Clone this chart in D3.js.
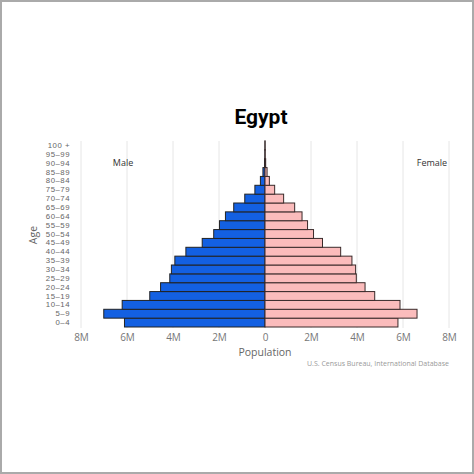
<!DOCTYPE html>
<html><head><meta charset="utf-8">
<script src="https://cdn.jsdelivr.net/npm/d3@7"></script>
<style>
html,body{margin:0;padding:0;background:#fff;}
svg{display:block;}
text{font-family:"Open Sans","Noto Sans",sans-serif;}
</style></head>
<body><svg id="c" width="474" height="474"></svg>
<script>
const ageGroups = ["0–4","5–9","10–14","15–19","20–24","25–29","30–34","35–39","40–44","45–49","50–54","55–59","60–64","65–69","70–74","75–79","80–84","85–89","90–94","95–99","100 +"];
const maleMillions = [6.11,7.01,6.21,5.01,4.54,4.14,4.07,3.92,3.44,2.73,2.23,1.98,1.72,1.36,0.88,0.44,0.20,0.09,0.02,0.004,0.0005];
const femaleMillions = [5.78,6.61,5.87,4.77,4.35,3.97,3.94,3.78,3.29,2.50,2.11,1.85,1.61,1.29,0.81,0.42,0.19,0.09,0.03,0.006,0.001];
const tickValues = [-8,-6,-4,-2,0,2,4,6,8];
const tickLabels = ["8M","6M","4M","2M","0","2M","4M","6M","8M"];

const svg = d3.select("#c");
// frame
svg.append("rect").attr("x",1).attr("y",1).attr("width",472).attr("height",472)
  .attr("fill","none").attr("stroke","#aaa").attr("stroke-width",2);

const x = d3.scaleLinear().domain([-8,8]).range([81,449]);
const y = d3.scaleBand().domain(ageGroups.slice().reverse()).range([141,327]).padding(0);

// gridlines
svg.append("g").selectAll("line").data(tickValues.filter(v=>v!==0)).join("line")
  .attr("x1",d=>x(d)).attr("x2",d=>x(d)).attr("y1",141).attr("y2",328)
  .attr("stroke","#e6e6e6").attr("stroke-width",1);

// bars
const rows = ageGroups.map((a,i)=>({age:a,m:maleMillions[i],f:femaleMillions[i]}));
svg.append("g").selectAll("rect").data(rows).join("rect")
  .attr("x",d=>x(-d.m)).attr("width",d=>x(0)-x(-d.m))
  .attr("y",d=>y(d.age)).attr("height",y.bandwidth())
  .attr("fill","#1360e2").attr("stroke","#222").attr("stroke-width",1);
svg.append("g").selectAll("rect").data(rows).join("rect")
  .attr("x",x(0)).attr("width",d=>x(d.f)-x(0))
  .attr("y",d=>y(d.age)).attr("height",y.bandwidth())
  .attr("fill","#fbbcbc").attr("stroke","#3a2a2a").attr("stroke-width",1);

// y axis labels
const yAxis = d3.axisLeft(y).tickSize(0).tickPadding(0);
const gy = svg.append("g").attr("transform","translate(70,0)").call(yAxis);
gy.select(".domain").remove();
gy.selectAll("text").attr("fill","#666").style("font-size","7.8px").style("letter-spacing","0.5px")
  .style("font-family","'Liberation Sans',sans-serif");

// x axis labels
const xAxis = d3.axisBottom(x).tickValues(tickValues).tickFormat((d,i)=>tickLabels[i]).tickSize(0).tickPadding(0);
const gx = svg.append("g").attr("transform","translate(0,334)").call(xAxis);
gx.select(".domain").remove();
gx.selectAll("text").attr("fill","#777").style("font-size","10px").style("font-family","'Open Sans',sans-serif");

// titles
svg.append("text").attr("x",261).attr("y",124).attr("text-anchor","middle")
  .style("font-family","Roboto,'Liberation Sans',sans-serif").style("font-weight","bold").style("font-size","21px")
  .attr("fill","#000").text("Egypt");
svg.append("text").attr("x",265).attr("y",356).attr("text-anchor","middle")
  .style("font-size","10.5px").attr("fill","#666").text("Population");
svg.append("text").attr("transform","translate(37,235) rotate(-90)").attr("text-anchor","middle")
  .style("font-size","10.5px").attr("fill","#666").text("Age");
svg.append("text").attr("x",123).attr("y",166).attr("text-anchor","middle")
  .style("font-size","9px").attr("fill","#333").text("Male");
svg.append("text").attr("x",432).attr("y",166).attr("text-anchor","middle")
  .style("font-size","9px").attr("fill","#333").text("Female");
svg.append("text").attr("x",449).attr("y",366).attr("text-anchor","end")
  .style("font-size","7px").attr("fill","#999").text("U.S. Census Bureau, International Database");
</script></body></html>
